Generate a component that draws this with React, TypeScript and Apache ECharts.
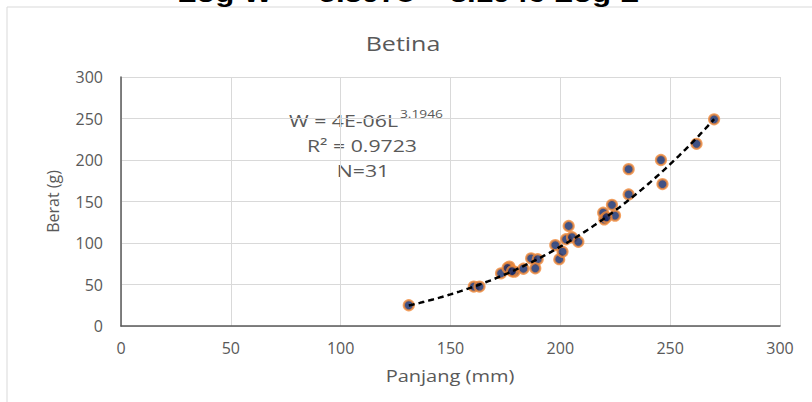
import React, { useEffect, useRef } from "react";
import * as echarts from "echarts";

const lengths = [131, 160.6, 163.2, 173, 176.8, 177.1, 179.1, 183.2, 186.7, 189.7, 188.6, 197.7, 199.5, 201, 203.8, 202.6, 205.3, 208.2, 219.5, 220, 223.5, 224.9, 231.1, 231.1, 245.8, 246.5, 270, 262, 176, 178, 221];
const weights = [25, 47.5, 47.5, 63.5, 71.5, 68.5, 65.5, 69, 81.5, 80.5, 69.5, 97.5, 80.5, 89.5, 120.5, 104.5, 107, 101.5, 136.5, 128.5, 146, 133, 158.5, 189, 200, 171, 249, 219.5, 70, 66, 131];
const xTicks = [0, 50, 100, 150, 200, 250, 300];
const yTicks = [0, 50, 100, 150, 200, 250, 300];
const TREND_A = 4.26e-6;
const TREND_B = 3.1946;
const trendRange = [131, 270];

const FONT = "'Open Sans', 'Noto Sans', sans-serif";
const GREY = "#595959";
const STRETCH = 1.25;

export default function App() {
  const ref = useRef<HTMLDivElement>(null);
  useEffect(() => {
    if (!ref.current) return;
    const chart = echarts.init(ref.current, null, { renderer: "svg" });
    const scatter = lengths.map((l, i) => [l, weights[i]]);
    const trend: number[][] = [];
    for (let x = trendRange[0]; x <= trendRange[1]; x += 1) {
      trend.push([x, TREND_A * Math.pow(x, TREND_B)]);
    }
    const txt = (x: number, y: number, text: string, size: number, align: string, extra: any = {}) => ({
      type: "text",
      x,
      y,
      scaleX: STRETCH,
      style: {
        text,
        font: `${size}px ${FONT}`,
        fill: GREY,
        align,
        verticalAlign: "middle",
      },
      ...extra,
    });
    chart.setOption({
      animation: false,
      backgroundColor: "#ffffff",
      grid: { left: 121, right: 32, top: 77, bottom: 76 },
      xAxis: {
        type: "value",
        min: xTicks[0],
        max: xTicks[xTicks.length - 1],
        interval: 50,
        axisLine: { show: true, lineStyle: { color: "#595959", width: 1.5 } },
        axisTick: { show: false },
        axisLabel: { color: GREY, fontSize: 16, fontFamily: FONT, margin: 14 },
        splitLine: { show: true, lineStyle: { color: "#d9d9d9", width: 1 } },
      },
      yAxis: {
        type: "value",
        min: yTicks[0],
        max: yTicks[yTicks.length - 1],
        interval: 50,
        name: "Berat (g)",
        nameLocation: "middle",
        nameGap: 60,
        nameRotate: 90,
        nameTextStyle: { color: GREY, fontSize: 16, fontFamily: FONT },
        axisLine: { show: true, lineStyle: { color: "#595959", width: 1.5 } },
        axisTick: { show: false },
        axisLabel: { color: GREY, fontSize: 16, fontFamily: FONT, margin: 18 },
        splitLine: { show: true, lineStyle: { color: "#d9d9d9", width: 1 } },
      },
      series: [
        {
          type: "line",
          data: trend,
          showSymbol: false,
          symbol: "none",
          lineStyle: { color: "#000000", width: 2.5, type: [6, 4] },
          z: 3,
        },
        {
          type: "scatter",
          data: scatter,
          symbolSize: 10,
          itemStyle: {
            color: "#102766",
            borderColor: "#f08a3a",
            borderWidth: 2.2,
          },
          z: 2,
        },
      ],
      graphic: [
        {
          type: "rect",
          shape: { x: 7, y: 7, width: 900, height: 500 },
          style: { fill: "none", stroke: "#d9d9d9", lineWidth: 1 },
          silent: true,
        },
        {
          type: "text",
          x: 408,
          y: 6,
          scaleX: STRETCH,
          style: {
            text: "Log W = -5.3978 + 3.1946 Log L",
            font: "bold 25px 'Liberation Sans', Arial, sans-serif",
            fill: "#000000",
            align: "center",
            verticalAlign: "bottom",
          },
        },
        txt(403, 43, "Betina", 20, "center"),
        txt(398, 120, "W = 4E-06L", 17, "right"),
        txt(400, 114, "3.1946", 11, "left"),
        txt(362, 145, "R² = 0.9723", 17, "center"),
        txt(363, 170, "N=31", 17, "center"),
        txt(450, 376, "Panjang (mm)", 16, "center"),
      ],
    });
    return () => chart.dispose();
  }, []);
  return <div ref={ref} style={{ width: 812, height: 402, position: "absolute", left: 0, top: 0 }} />;
}
